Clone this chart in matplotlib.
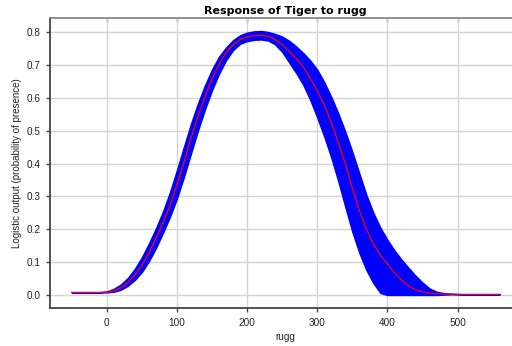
import numpy as np
import matplotlib
matplotlib.use("Agg")
import matplotlib.pyplot as plt

# rugg values (step 10) and the response curve
rugg = np.arange(-50, 561, 10)

mean_resp = [
    0.008, 0.008, 0.008, 0.008, 0.008,                 # -50..-10
    0.009, 0.013, 0.022, 0.038, 0.060, 0.090, 0.128,   # 0..60
    0.172, 0.220, 0.272, 0.335, 0.405, 0.478, 0.545,   # 70..130
    0.605, 0.658, 0.703, 0.738, 0.762, 0.778, 0.786,   # 140..200
    0.790, 0.791, 0.788, 0.778, 0.762, 0.742, 0.720,   # 210..270
    0.695, 0.660, 0.622, 0.578, 0.525, 0.465, 0.400,   # 280..340
    0.325, 0.258, 0.200, 0.155, 0.122, 0.095, 0.068,   # 350..410
    0.045, 0.028, 0.016, 0.009, 0.006, 0.004, 0.003,   # 420..480
    0.003, 0.002, 0.002, 0.002, 0.002, 0.002, 0.002,   # 490..550
    0.002,                                             # 560
]

upper_resp = [
    0.008, 0.008, 0.008, 0.008, 0.008,
    0.011, 0.019, 0.032, 0.052, 0.080, 0.115, 0.157,
    0.203, 0.254, 0.313, 0.381, 0.452, 0.522, 0.584,
    0.639, 0.687, 0.726, 0.754, 0.776, 0.791, 0.799,
    0.803, 0.804, 0.801, 0.795, 0.787, 0.774, 0.757,
    0.737, 0.714, 0.686, 0.648, 0.603, 0.553, 0.497,
    0.436, 0.370, 0.305, 0.250, 0.205, 0.168, 0.136,
    0.108, 0.083, 0.059, 0.038, 0.020, 0.010, 0.006,
    0.004, 0.003, 0.002, 0.002, 0.002, 0.002, 0.002,
    0.002,
]

lower_resp = [
    0.008, 0.008, 0.008, 0.008, 0.008,
    0.008, 0.010, 0.016, 0.028, 0.046, 0.070, 0.103,
    0.143, 0.189, 0.238, 0.294, 0.360, 0.431, 0.501,
    0.566, 0.624, 0.674, 0.715, 0.746, 0.765, 0.773,
    0.777, 0.778, 0.775, 0.763, 0.740, 0.708, 0.676,
    0.640, 0.594, 0.540, 0.482, 0.418, 0.346, 0.268,
    0.192, 0.128, 0.076, 0.036, 0.006, 0.000, 0.000,
    0.000, 0.000, 0.000, 0.000, 0.000, 0.000, 0.001,
    0.002, 0.002, 0.002, 0.002, 0.002, 0.002, 0.002,
    0.002,
]

x_ticks = [0, 100, 200, 300, 400, 500]
y_ticks = [0.0, 0.1, 0.2, 0.3, 0.4, 0.5, 0.6, 0.7, 0.8]

plt.rcParams["font.family"] = ["Liberation Sans", "DejaVu Sans"]

fig = plt.figure(figsize=(5.12, 3.46), dpi=100)
ax = fig.add_axes([50 / 512, 38 / 346, 470 / 512, 290 / 346])

ax.fill_between(rugg, lower_resp, upper_resp, color="#0000ff",
                edgecolor="#0000ff", linewidth=1.0, zorder=2)
ax.plot(rugg, mean_resp, color="#ff0000", linewidth=0.9, zorder=3)

ax.set_xlim(-81, 589)
ax.set_ylim(-0.0396, 0.8435)
ax.set_xticks(x_ticks)
ax.set_yticks(y_ticks)
ax.set_yticklabels([f"{v:.1f}" for v in y_ticks])
ax.grid(True, color="#d4d4d4", linewidth=1.0, zorder=0)
ax.set_axisbelow(True)

ax.tick_params(axis="both", direction="out", length=3, width=1,
               color="#444444", labelsize=7.2, labelcolor="#222222", pad=4)

for side in ["left", "bottom"]:
    ax.spines[side].set_color("#444444")
    ax.spines[side].set_linewidth(1.3)
ax.spines["top"].set_color("#888888")
ax.spines["top"].set_linewidth(1.3)
ax.spines["right"].set_visible(False)

top = ax.secondary_xaxis("top")
top.set_xticks(x_ticks)
top.tick_params(direction="in", length=3, width=1, color="#444444",
                labeltop=False)
top.spines["top"].set_visible(False)

ax.set_xlabel("rugg", fontsize=7.2, color="#222222", labelpad=3)
ax.set_ylabel("Logistic output (probability of presence)", fontsize=7,
              color="#222222", labelpad=3)
ax.set_title("Response of Tiger to rugg", fontsize=8, fontweight="bold",
             family=["DejaVu Sans"], pad=3)

fig.savefig("out.png", dpi=100)
